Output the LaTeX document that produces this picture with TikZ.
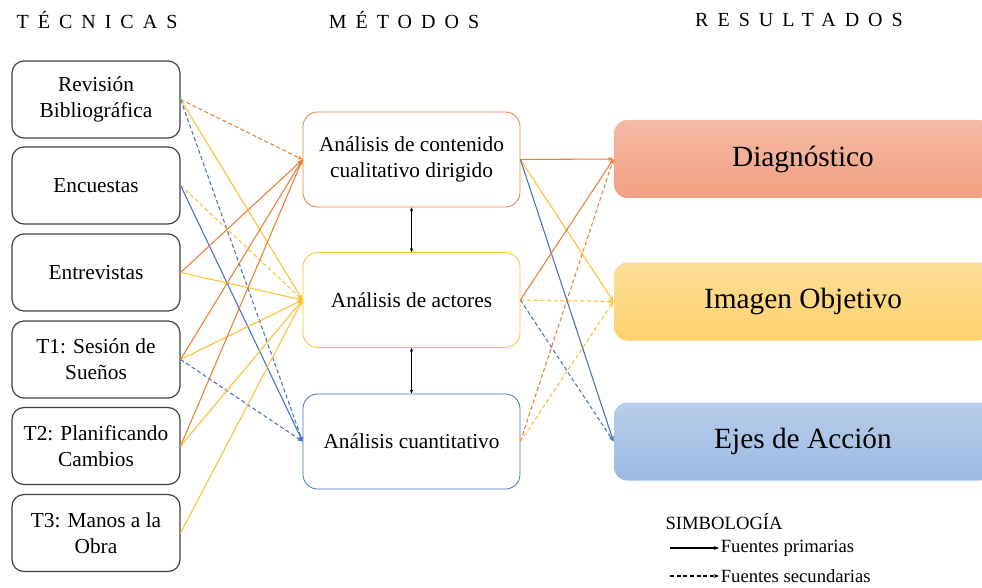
\documentclass[tikz,border=0pt]{standalone}
\usepackage{fontspec}
\setmainfont{Liberation Serif}
\newfontfamily\spacedfont[LetterSpace=45]{Liberation Serif}
\newfontfamily\cajafont{Liberation Serif}
\usetikzlibrary{arrows.meta}
\definecolor{naranja}{HTML}{ED7D31}
\definecolor{amarillo}{HTML}{F9C22E}
\definecolor{azul}{HTML}{4472C4}
\tikzset{every picture/.style={line width=0.75pt}}

\begin{document}
\begin{tikzpicture}[x=0.75pt,y=0.75pt,yscale=-1,xscale=1,
	tecnica/.style={draw=black!75, line width=0.9pt, rounded corners=9pt, minimum width=126pt, minimum height=57.75pt, align=center, font=\cajafont\fontsize{16}{19.5}\selectfont},
	metodo/.style={draw=#1, line width=0.6pt, rounded corners=11pt, minimum width=162.75pt, minimum height=71.25pt, align=center, font=\cajafont\fontsize{16}{19.5}\selectfont},
	resultado/.style={rounded corners=10pt, minimum width=283.5pt, minimum height=58.5pt, font=\cajafont\fontsize{22}{26}\selectfont},
	flecha/.style={draw=#1, line width=0.8pt, -{Stealth[length=4pt,width=3pt]}},
	fuente2/.style={dash pattern={on 3pt off 2pt}},
	titulo/.style={font=\spacedfont\fontsize{15}{18}\selectfont},
	leyenda/.style={font=\cajafont\fontsize{14}{16}\selectfont}
]
	\clip (0,0) rectangle (982,588);

	% Titles
	\draw (97,20) node[titulo] (tTec) {TÉCNICAS};
	\draw (404,20) node[titulo] (tMet) {MÉTODOS};
	\draw (799,20) node[titulo] (tRes) {RESULTADOS};

	% Tecnicas
	\draw (96,99.5) node[tecnica] (rev) {Revisión\\Bibliográfica};
	\draw (96,185.5) node[tecnica] (enc) {Encuestas};
	\draw (96,272.5) node[tecnica] (ent) {Entrevistas};
	\draw (96,359.5) node[tecnica] (tuno) {T1: Sesión de\\Sueños};
	\draw (96,446) node[tecnica] (tdos) {T2: Planificando\\Cambios};
	\draw (96,533) node[tecnica] (ttres) {T3: Manos a la\\Obra};

	% Metodos
	\draw (411.5,159.5) node[metodo=naranja] (cont) {Análisis de contenido\\cualitativo dirigido};
	\draw (411.5,300) node[metodo=amarillo] (act) {Análisis de actores};
	\draw (411.5,441.5) node[metodo=azul] (cuan) {Análisis cuantitativo};

	% Resultados
	\draw (803,159) node[resultado, top color={rgb,255:red,245;green,187;blue,165}, bottom color={rgb,255:red,242;green,160;blue,130}] (diag) {Diagnóstico};
	\draw (803,301.5) node[resultado, top color={rgb,255:red,252;green,222;blue,152}, bottom color={rgb,255:red,255;green,209;blue,108}] (img) {Imagen Objetivo};
	\draw (803,441.5) node[resultado, top color={rgb,255:red,184;green,206;blue,234}, bottom color={rgb,255:red,155;green,186;blue,227}] (ejes) {Ejes de Acción};

	% Tecnicas -> Metodos
	\draw[flecha=naranja, fuente2] (rev.east) -- (cont.west);
	\draw[flecha=amarillo] (rev.east) -- (act.west);
	\draw[flecha=azul, fuente2] (rev.east) -- (cuan.west);
	\draw[flecha=amarillo, fuente2] (enc.east) -- (act.west);
	\draw[flecha=azul] (enc.east) -- (cuan.west);
	\draw[flecha=naranja] (ent.east) -- (cont.west);
	\draw[flecha=amarillo] (ent.east) -- (act.west);
	\draw[flecha=naranja] (tuno.east) -- (cont.west);
	\draw[flecha=amarillo] (tuno.east) -- (act.west);
	\draw[flecha=azul, fuente2] (tuno.east) -- (cuan.west);
	\draw[flecha=naranja] (tdos.east) -- (cont.west);
	\draw[flecha=amarillo] (tdos.east) -- (act.west);
	\draw[flecha=amarillo] (ttres.east) -- (act.west);

	% Metodos -> Resultados
	\draw[flecha=naranja] (cont.east) -- (diag.west);
	\draw[flecha=amarillo] (cont.east) -- (img.west);
	\draw[flecha=azul] (cont.east) -- (ejes.west);
	\draw[flecha=naranja] (act.east) -- (diag.west);
	\draw[flecha=amarillo, fuente2] (act.east) -- (img.west);
	\draw[flecha=azul, fuente2] (act.east) -- (ejes.west);
	\draw[flecha=naranja, fuente2] (cuan.east) -- (diag.west);
	\draw[flecha=amarillo, fuente2] (cuan.east) -- (img.west);

	% Metodos <-> Metodos
	\draw[line width=0.6pt, {Stealth[length=3pt,width=2.5pt]}-{Stealth[length=3pt,width=2.5pt]}] (cont.south) -- (act.north);
	\draw[line width=0.6pt, {Stealth[length=3pt,width=2.5pt]}-{Stealth[length=3pt,width=2.5pt]}] (act.south) -- (cuan.north);

	% Simbologia
	\draw (665,522) node[leyenda, anchor=west, inner sep=0pt] (simb) {SIMBOLOGÍA};
	\coordinate (lp) at (670,548);
	\coordinate (ls) at (670,576);
	\draw (719,548) node[leyenda, anchor=west, inner sep=1pt] (prim) {Fuentes primarias};
	\draw (719,576) node[leyenda, anchor=west, inner sep=1pt] (secu) {Fuentes secundarias};
	\draw[flecha=black] (lp) -- (prim.west);
	\draw[flecha=black, fuente2] (ls) -- (secu.west);

\end{tikzpicture}
\end{document}
